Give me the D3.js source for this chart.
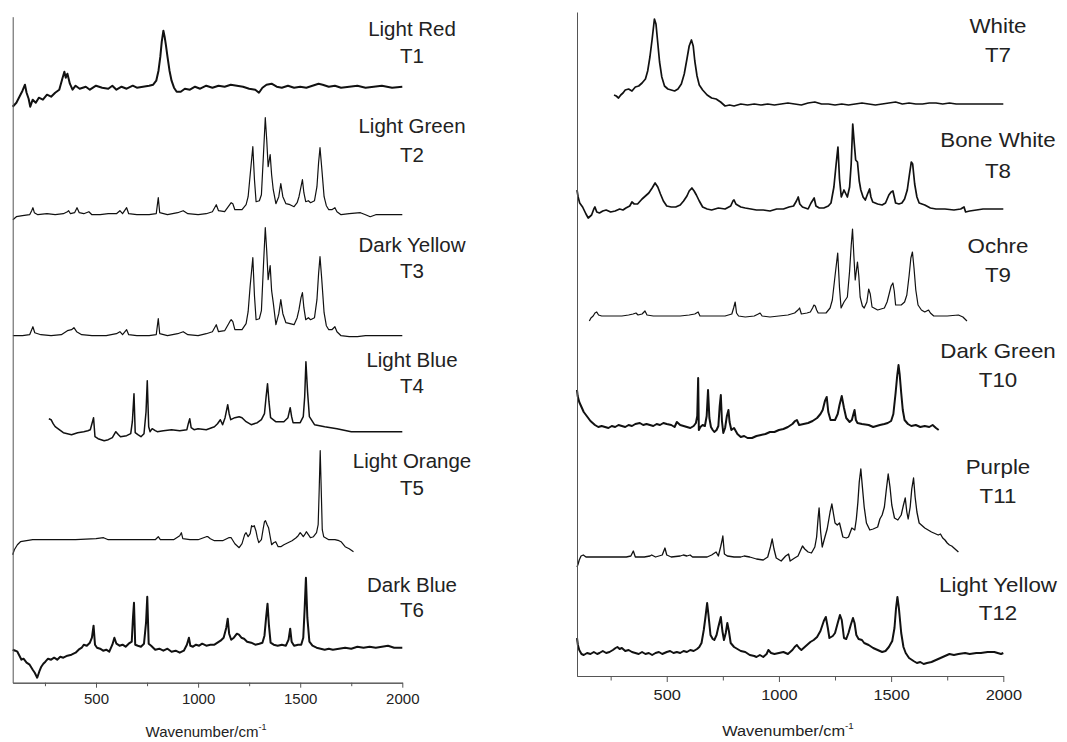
<!DOCTYPE html>
<html>
<head>
<meta charset="utf-8">
<script src="https://cdn.jsdelivr.net/npm/d3@7"></script>
<style>
  body { margin: 0; background: #fff; }
  text { font-family: "Liberation Sans", Arial, sans-serif; fill: #222; }
</style>
</head>
<body>
<script>
//Page size
var width = 1067;
var height = 742;

//Sample names and codes
var leftNames = ["Light Red", "Light Green", "Dark Yellow", "Light Blue", "Light Orange", "Dark Blue"];
var leftCodes = ["T1", "T2", "T3", "T4", "T5", "T6"];
var rightNames = ["White", "Bone White", "Ochre", "Dark Green", "Purple", "Light Yellow"];
var rightCodes = ["T7", "T8", "T9", "T10", "T11", "T12"];

//x tick labels
var majorTicks = [500, 1000, 1500, 2000];
var minorTicks = [250, 750, 1250, 1750];

//Stacking offsets (intensity units)
var leftOffsets = [596, 468, 347, 251, 143, 35];
var rightOffsets = [572, 467, 360, 250, 119, 23];

//Spectra: [wavenumber, intensity]
var t1 = [[92,-20],[110,-16],[125,-10],[140,-4],[152,2],[160,-6],[170,-12],[178,-20],[190,-13],[205,-16],[220,-11],[240,-13],[260,-8],[280,-10],[300,-6],[320,-3],[335,8],[345,15],[352,9],[360,13],[372,3],[385,-3],[400,1],[420,-2],[450,0],[470,-3],[500,1],[530,-1],[560,-2],[580,1],[600,-3],[625,0],[650,-2],[680,1],[700,-1],[730,0],[760,1],[780,2],[795,6],[806,16],[815,30],[822,45],[830,56],[836,50],[842,42],[850,30],[860,16],[870,6],[882,-1],[895,-5],[915,-5],[935,-2],[960,-3],[985,0],[1010,-2],[1040,1],[1070,-1],[1100,1],[1130,0],[1160,2],[1190,1],[1220,0],[1250,-2],[1280,-3],[1298,-6],[1315,-1],[1335,2],[1360,3],[1385,0],[1410,-1],[1440,1],[1470,-1],[1500,0],[1530,-1],[1560,1],[1590,3],[1610,2],[1640,0],[1670,1],[1700,-1],[1740,0],[1780,1],[1820,-1],[1860,0],[1900,1],[1950,-1],[2000,0]];

var t2 = [[93,-5],[110,-2],[140,-1],[175,0],[185,4],[191,7],[198,2],[215,0],[260,1],[300,0],[340,1],[360,3],[366,4],[375,1],[395,2],[407,7],[418,2],[440,1],[465,3],[480,0],[520,0],[560,1],[600,1],[617,4],[630,1],[650,7],[660,1],[700,0],[760,0],[795,1],[805,17],[812,2],[850,0],[900,2],[927,4],[950,1],[1000,0],[1040,1],[1070,3],[1089,10],[1100,4],[1130,3],[1155,10],[1162,12],[1170,11],[1180,5],[1215,5],[1235,10],[1245,18],[1255,40],[1268,68],[1276,35],[1284,13],[1300,14],[1310,20],[1320,60],[1329,97],[1336,75],[1343,48],[1353,60],[1360,40],[1368,25],[1381,11],[1395,18],[1405,31],[1415,18],[1430,11],[1450,10],[1470,8],[1485,12],[1494,18],[1504,28],[1511,35],[1518,22],[1527,13],[1540,14],[1551,12],[1570,14],[1582,28],[1590,52],[1597,67],[1605,48],[1617,18],[1628,9],[1640,5],[1655,5],[1670,7],[1680,3],[1700,0],[1740,1],[1795,2],[1820,0],[1843,-2],[1870,0],[1900,0],[2000,0]];

var t3 = [[93,0],[140,0],[175,1],[191,9],[200,3],[230,1],[280,0],[330,1],[360,5],[380,6],[392,8],[405,4],[430,1],[480,0],[550,0],[600,2],[617,4],[630,1],[650,6],[660,1],[700,0],[760,0],[795,1],[805,17],[812,2],[850,0],[900,2],[927,4],[950,1],[1000,0],[1040,2],[1070,4],[1089,11],[1100,4],[1130,5],[1155,14],[1162,16],[1170,14],[1180,6],[1215,6],[1235,12],[1245,24],[1255,50],[1268,78],[1276,40],[1284,16],[1300,17],[1310,25],[1320,70],[1329,108],[1336,85],[1343,56],[1353,70],[1360,45],[1368,33],[1381,11],[1395,22],[1405,36],[1415,22],[1430,13],[1450,12],[1470,11],[1485,18],[1494,26],[1504,38],[1511,43],[1518,28],[1527,16],[1540,18],[1551,16],[1570,18],[1582,36],[1590,62],[1597,79],[1605,58],[1617,23],[1628,10],[1640,6],[1655,6],[1670,9],[1680,4],[1700,0],[1740,-1],[1780,-1],[1820,0],[1850,0],[2000,0]];

var t4 = [[269,13],[280,12],[290,8],[300,5],[320,2],[340,-1],[360,-2],[380,-3],[410,-1],[440,0],[460,1],[472,2],[480,8],[488,14],[495,-5],[510,-7],[540,-9],[560,-8],[580,-6],[597,0],[610,-3],[620,-5],[650,-4],[670,-2],[678,10],[686,38],[692,-1],[705,-3],[720,-5],[735,-2],[745,20],[751,51],[758,5],[765,0],[775,3],[790,1],[800,0],[830,1],[870,2],[910,1],[945,2],[952,8],[959,13],[966,4],[980,2],[1000,3],[1040,2],[1080,5],[1095,8],[1109,12],[1120,7],[1132,14],[1145,27],[1152,18],[1160,12],[1180,14],[1201,15],[1215,14],[1235,10],[1260,7],[1290,9],[1310,12],[1325,18],[1333,35],[1340,48],[1347,30],[1355,14],[1380,10],[1420,10],[1440,14],[1451,24],[1458,15],[1465,9],[1500,9],[1515,15],[1522,35],[1528,70],[1536,40],[1545,15],[1570,7],[1620,5],[1680,3],[1750,0],[1850,0],[2000,0]];

var t5 = [[92,-15],[100,-10],[115,-5],[130,-2],[160,-1],[190,0],[300,0],[400,0],[500,1],[537,2],[560,0],[700,0],[790,0],[805,3],[815,0],[880,0],[910,4],[918,7],[925,1],[960,0],[1000,0],[1040,3],[1048,3],[1060,1],[1080,-1],[1120,-1],[1150,2],[1162,2],[1180,-4],[1201,-8],[1215,-4],[1228,5],[1235,7],[1245,3],[1255,6],[1262,14],[1268,13],[1275,14],[1283,9],[1290,2],[1297,-3],[1310,0],[1318,10],[1325,18],[1330,19],[1338,15],[1345,12],[1352,4],[1360,-5],[1370,-3],[1380,-2],[1392,-7],[1405,-7],[1420,-5],[1440,-3],[1460,-1],[1480,2],[1490,4],[1500,7],[1508,5],[1515,3],[1522,5],[1530,8],[1540,5],[1550,2],[1565,3],[1580,7],[1588,15],[1593,50],[1598,89],[1603,50],[1608,10],[1615,3],[1640,0],[1670,0],[1690,-1],[1700,-2],[1720,-7],[1740,-9],[1761,-12]];

var t6 = [[92,-2],[105,-3],[115,-4],[125,-8],[135,-12],[145,-11],[160,-15],[175,-17],[190,-22],[200,-25],[212,-30],[222,-24],[232,-19],[242,-16],[252,-14],[265,-11],[280,-12],[295,-10],[310,-12],[325,-9],[340,-10],[360,-8],[380,-7],[400,-5],[415,-2],[430,0],[440,3],[455,2],[470,5],[480,10],[488,22],[495,3],[505,0],[520,-1],[535,-3],[550,-2],[565,-4],[580,3],[590,10],[600,4],[615,2],[630,3],[645,1],[660,4],[675,6],[681,30],[686,45],[692,3],[705,2],[720,1],[735,4],[745,25],[751,51],[758,4],[770,2],[790,-2],[810,-1],[830,-3],[850,-1],[870,-4],[890,-3],[910,-5],[930,-3],[945,3],[955,10],[962,2],[975,1],[990,3],[1005,2],[1020,4],[1040,2],[1060,3],[1080,3],[1095,5],[1110,7],[1125,10],[1138,20],[1145,29],[1152,14],[1162,8],[1175,10],[1190,14],[1200,13],[1212,10],[1225,9],[1240,6],[1260,5],[1280,3],[1300,4],[1315,5],[1325,12],[1333,30],[1340,44],[1347,22],[1355,5],[1370,3],[1390,2],[1410,3],[1430,2],[1443,8],[1451,19],[1458,6],[1470,2],[1490,3],[1505,3],[1515,10],[1522,40],[1528,70],[1535,30],[1545,6],[1560,2],[1580,0],[1600,-1],[1620,-2],[1640,-1],[1660,-2],[1690,-1],[1720,0],[1750,-1],[1780,1],[1810,0],[1840,1],[1870,0],[1900,1],[1930,2],[1960,0],[2000,0]];

var t7 = [[265,9],[275,8],[285,6],[295,9],[305,11],[315,14],[330,15],[345,13],[360,17],[375,18],[390,21],[405,25],[415,33],[425,47],[435,65],[445,85],[452,80],[460,61],[468,42],[478,27],[490,18],[505,15],[520,14],[535,13],[550,15],[565,20],[578,30],[590,45],[600,58],[610,64],[618,58],[625,43],[635,28],[645,19],[660,14],[680,9],[700,6],[720,5],[740,2],[760,-2],[780,-1],[800,-2],[830,0],[860,-1],[890,0],[920,-1],[950,0],[980,-1],[1010,0],[1040,1],[1070,0],[1100,-1],[1130,1],[1160,2],[1190,0],[1220,0],[1250,-1],[1280,0],[1310,-1],[1340,0],[1370,1],[1400,0],[1430,-1],[1460,0],[1490,1],[1520,2],[1550,0],[1580,1],[1610,0],[1640,0],[1670,1],[1700,1],[1730,0],[1760,1],[1790,0],[1820,0],[2000,0]];

var t8 = [[100,19],[105,12],[112,6],[125,2],[140,-5],[150,-9],[165,-6],[175,0],[180,2],[188,-3],[200,-4],[215,-2],[230,-1],[250,-3],[270,-2],[290,0],[305,-1],[318,1],[335,3],[345,7],[355,5],[370,5],[390,10],[405,13],[420,16],[435,21],[448,26],[460,22],[472,15],[485,8],[500,3],[520,2],[540,2],[560,4],[575,8],[590,13],[600,18],[612,21],[622,18],[632,14],[645,8],[660,2],[680,0],[700,-1],[730,1],[760,0],[785,3],[795,8],[800,9],[808,5],[815,4],[830,2],[850,1],[875,0],[900,-1],[930,-1],[960,-2],[990,0],[1020,0],[1045,2],[1065,3],[1078,8],[1086,12],[1093,5],[1105,2],[1130,0],[1143,6],[1157,11],[1165,3],[1180,1],[1200,1],[1220,3],[1232,6],[1245,22],[1255,45],[1263,62],[1270,30],[1278,12],[1290,19],[1305,12],[1315,22],[1322,45],[1329,85],[1336,65],[1342,49],[1350,47],[1358,28],[1365,19],[1375,12],[1385,9],[1395,15],[1404,20],[1410,12],[1418,7],[1440,5],[1460,4],[1475,6],[1490,14],[1500,17],[1508,18],[1514,12],[1520,6],[1535,5],[1548,6],[1560,10],[1572,19],[1582,35],[1590,47],[1596,45],[1605,25],[1615,12],[1625,6],[1650,4],[1675,1],[1700,0],[1740,0],[1780,-1],[1810,0],[1825,2],[1832,-3],[1850,-2],[1880,-1],[1910,0],[2000,0]];

var t9 = [[155,-5],[162,-2],[172,0],[180,3],[188,4],[196,1],[210,0],[260,0],[300,0],[330,1],[350,2],[363,3],[372,1],[390,2],[403,5],[412,1],[440,0],[500,0],[560,0],[600,1],[625,2],[640,4],[648,0],[700,0],[760,0],[790,2],[798,8],[805,14],[811,3],[820,0],[850,-1],[890,0],[908,2],[916,3],[925,0],[960,-1],[1000,0],[1040,1],[1070,3],[1085,6],[1092,8],[1100,2],[1125,3],[1140,4],[1150,8],[1156,11],[1162,10],[1168,6],[1175,3],[1210,3],[1228,8],[1238,16],[1250,40],[1262,63],[1270,28],[1277,8],[1290,14],[1305,19],[1315,45],[1322,70],[1328,87],[1334,60],[1340,36],[1350,54],[1356,40],[1362,19],[1372,10],[1380,8],[1392,14],[1400,27],[1407,22],[1415,9],[1440,6],[1470,8],[1482,14],[1490,21],[1500,30],[1508,33],[1514,25],[1520,11],[1545,11],[1560,14],[1570,21],[1580,40],[1588,58],[1595,64],[1602,48],[1610,26],[1620,11],[1635,6],[1650,4],[1667,6],[1675,3],[1690,0],[1750,0],[1800,1],[1820,-1],[1838,-5]];

var t10 = [[100,36],[103,30],[110,24],[120,19],[130,14],[140,11],[150,8],[160,5],[170,3],[180,1],[195,-1],[210,0],[225,-1],[240,-2],[255,0],[270,-1],[285,1],[300,0],[315,-1],[330,1],[345,0],[360,2],[380,3],[395,1],[410,2],[425,1],[440,0],[455,2],[470,1],[485,3],[500,2],[520,1],[535,-1],[545,4],[560,1],[575,0],[590,-1],[605,-2],[620,0],[630,3],[636,10],[640,48],[643,-4],[650,-1],[660,1],[670,0],[678,10],[684,36],[690,8],[697,-1],[705,-4],[712,-6],[722,-4],[730,0],[736,20],[741,31],[746,5],[752,-7],[760,-2],[768,10],[775,16],[780,4],[788,-4],[800,-2],[815,-8],[830,-11],[845,-10],[860,-12],[880,-12],[900,-10],[920,-9],[940,-8],[960,-6],[980,-6],[1000,-4],[1020,-3],[1040,-1],[1060,2],[1072,5],[1080,6],[1090,1],[1110,2],[1130,3],[1150,5],[1170,8],[1185,12],[1195,16],[1205,25],[1213,29],[1220,14],[1230,6],[1250,6],[1262,12],[1270,21],[1280,30],[1290,18],[1300,8],[1315,4],[1325,6],[1332,12],[1337,16],[1343,6],[1350,3],[1370,2],[1400,1],[1420,-1],[1450,1],[1470,2],[1485,3],[1500,5],[1510,12],[1520,33],[1527,50],[1533,61],[1538,52],[1545,33],[1552,16],[1560,6],[1575,2],[1590,0],[1610,1],[1630,-1],[1650,0],[1670,-1],[1685,1],[1700,-2],[1712,-4]];

var t11 = [[100,-10],[105,-7],[110,-3],[118,1],[128,2],[140,0],[200,0],[260,0],[320,0],[340,1],[351,6],[360,0],[400,0],[425,1],[433,2],[450,0],[480,2],[492,9],[500,2],[520,0],[560,1],[574,2],[590,1],[604,2],[615,0],[680,0],[700,2],[720,5],[730,1],[740,10],[745,15],[750,21],[757,3],[770,1],[800,0],[830,0],[845,1],[870,0],[900,-2],[930,-3],[950,0],[962,10],[970,18],[978,8],[988,-1],[1010,-4],[1030,1],[1043,3],[1050,-4],[1070,-1],[1085,1],[1095,6],[1105,11],[1115,8],[1130,5],[1145,4],[1160,10],[1168,20],[1175,40],[1179,49],[1186,25],[1193,10],[1205,20],[1215,28],[1228,45],[1236,53],[1244,42],[1250,34],[1260,32],[1270,34],[1285,20],[1300,19],[1310,20],[1325,29],[1338,27],[1345,38],[1352,55],[1358,75],[1365,88],[1372,70],[1380,50],[1390,34],[1405,27],[1420,28],[1440,30],[1450,38],[1460,42],[1470,50],[1478,66],[1487,83],[1495,70],[1503,52],[1515,39],[1530,37],[1545,42],[1555,52],[1563,59],[1570,45],[1576,38],[1585,50],[1592,68],[1600,79],[1607,60],[1615,45],[1625,34],[1640,31],[1650,29],[1665,27],[1680,25],[1700,23],[1710,22],[1720,23],[1730,19],[1740,17],[1750,14],[1760,12],[1770,11],[1780,9],[1790,7],[1800,5]];

var t12 = [[100,15],[104,8],[110,3],[120,-1],[130,-2],[145,0],[160,-1],[175,1],[190,-1],[200,0],[215,2],[230,0],[245,1],[260,3],[272,5],[280,6],[290,4],[300,5],[315,2],[330,3],[345,1],[360,0],[375,-1],[390,1],[405,-1],[420,0],[435,-2],[450,0],[465,1],[480,-1],[500,1],[515,2],[530,0],[545,1],[560,0],[575,2],[590,1],[605,3],[620,2],[635,4],[645,6],[655,10],[665,23],[672,35],[680,50],[686,38],[695,18],[705,14],[712,13],[722,18],[730,26],[741,36],[748,22],[755,13],[763,20],[770,30],[777,22],[785,10],[800,6],[815,4],[830,2],[850,1],[870,-2],[890,-3],[900,-4],[915,-2],[930,-4],[945,-1],[953,3],[965,0],[980,-1],[1000,0],[1020,1],[1040,-1],[1060,3],[1070,6],[1080,8],[1090,5],[1100,3],[1115,6],[1130,9],[1140,11],[1155,13],[1170,16],[1185,22],[1200,32],[1209,36],[1218,25],[1225,15],[1240,17],[1250,20],[1262,30],[1272,38],[1280,33],[1290,15],[1300,14],[1310,20],[1320,28],[1330,35],[1337,30],[1345,18],[1355,14],[1370,13],[1380,10],[1400,8],[1420,5],[1440,3],[1460,1],[1475,2],[1490,6],[1505,12],[1515,25],[1522,45],[1528,56],[1535,44],[1545,20],[1555,6],[1565,0],[1580,-5],[1600,-8],[1615,-10],[1630,-9],[1645,-11],[1660,-10],[1680,-9],[1700,-7],[1720,-5],[1740,-3],[1760,-1],[1780,-2],[1800,-1],[1830,0],[1850,-1],[1880,0],[1900,0],[1930,1],[1960,1],[1990,-1],[2000,0]];

var leftSpectra = [t1, t2, t3, t4, t5, t6];
var rightSpectra = [t7, t8, t9, t10, t11, t12];

//line widths: noisy traces look heavier
var leftWidths = [2, 1.2, 1.2, 1.5, 1.2, 2];
var rightWidths = [1.7, 1.7, 1.2, 2, 1.3, 2];

var svg = d3.select("body")
    .append("svg")
    .attr("width", width)
    .attr("height", height);

function drawPanel(p){
    var x = d3.scaleLinear().domain(p.xDomain).range([p.left, p.right]);
    var y = d3.scaleLinear().domain([0, p.bottom - p.top]).range([p.bottom, p.top]);

    var g = svg.append("g");

    //spectra
    var line = d3.line()
        .x(function(d){ return x(d[0]); })
        .y(function(d){ return y(d[1]); });

    p.spectra.forEach(function(s, i){
        var shifted = s.map(function(d){ return [d[0], d[1] + p.offsets[i]]; });
        g.append("path")
            .attr("d", line(shifted))
            .attr("fill", "none")
            .attr("stroke", "#111")
            .attr("stroke-width", p.widths[i])
            .attr("stroke-linejoin", "round");
    });

    //bottom axis
    var xAxis = d3.axisBottom(x).tickValues(majorTicks).tickFormat(d3.format("d"))
        .tickSize(p.tick).tickSizeOuter(0).tickPadding(p.pad);
    var xg = g.append("g")
        .attr("transform", "translate(0," + p.bottom + ")")
        .call(xAxis);
    xg.selectAll("text")
        .attr("font-size", 15)
        .attr("fill", "#333")
        .attr("transform", "scale(" + p.stretch + ",1)");

    var minorAxis = d3.axisBottom(x).tickValues(minorTicks).tickSize(p.tick - 1.5).tickSizeOuter(0).tickFormat("");
    g.append("g")
        .attr("transform", "translate(0," + p.bottom + ")")
        .call(minorAxis);

    //left axis: bare line
    var yAxis = d3.axisLeft(y).tickValues([]).tickSizeOuter(0);
    g.append("g")
        .attr("transform", "translate(" + p.left + ",0)")
        .call(yAxis);

    g.selectAll(".domain, .tick line").attr("stroke", "#555");

    //axis title
    var title = g.append("text")
        .attr("transform", "translate(" + p.titleX + "," + p.titleY + ") scale(" + p.stretch + ",1)")
        .attr("text-anchor", "middle")
        .attr("font-size", 15);
    title.append("tspan").text("Wavenumber/cm");
    title.append("tspan").attr("font-size", 9).attr("dy", -7).text("-1");

    //sample labels
    p.names.forEach(function(n, i){
        g.append("text")
            .attr("transform", "translate(" + p.labelX + "," + p.labelY[i][0] + ") scale(" + p.stretch + ",1)")
            .attr("text-anchor", "middle")
            .attr("font-size", 20.5)
            .text(n);
        g.append("text")
            .attr("transform", "translate(" + p.labelX + "," + p.labelY[i][1] + ") scale(" + p.stretch + ",1)")
            .attr("text-anchor", "middle")
            .attr("font-size", 20.5)
            .text(p.codes[i]);
    });
}

drawPanel({
    spectra: leftSpectra, offsets: leftOffsets, widths: leftWidths,
    names: leftNames, codes: leftCodes,
    xDomain: [92, 2000], left: 12.7, right: 402.3, top: 16.7, bottom: 682.7,
    tick: 5, pad: 5.5, stretch: 1,
    titleX: 206, titleY: 737,
    labelX: 412,
    labelY: [[36, 63], [133, 162], [252, 278], [367, 393], [468, 495], [592, 617]]
});

drawPanel({
    spectra: rightSpectra, offsets: rightOffsets, widths: rightWidths,
    names: rightNames, codes: rightCodes,
    xDomain: [100, 2000], left: 577, right: 1003.3, top: 12, bottom: 676,
    tick: 6, pad: 7, stretch: 1.09,
    titleX: 788, titleY: 736,
    labelX: 998,
    labelY: [[33, 62], [147, 178], [253, 282], [358, 387], [474, 503], [592, 620]]
});
</script>
</body>
</html>
